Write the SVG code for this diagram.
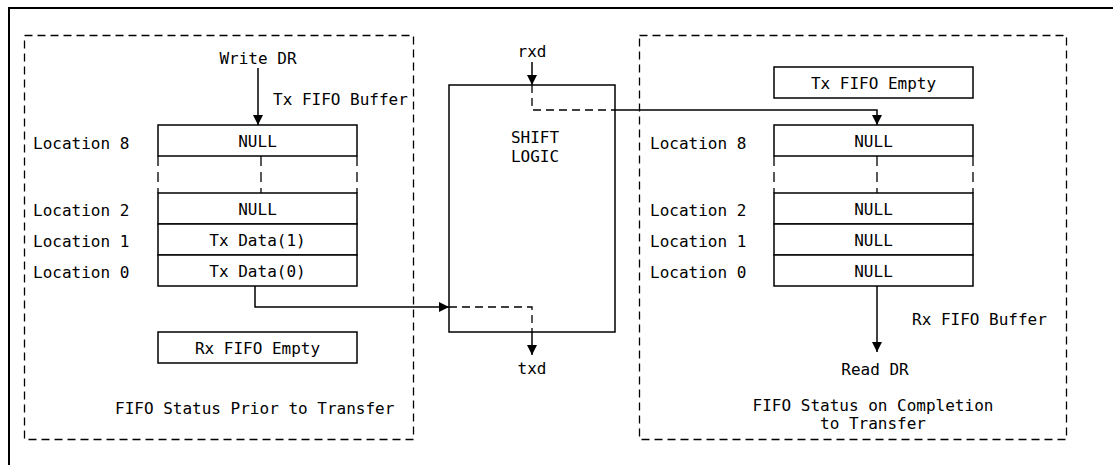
<svg xmlns="http://www.w3.org/2000/svg" width="1113" height="465" viewBox="0 0 1113 465">
<defs>
<style>
text{font-family:"DejaVu Sans Mono","Liberation Mono",monospace;font-size:16px;fill:#000}
.c{text-anchor:middle}
.box{fill:#fff;stroke:#000;stroke-width:1.5}
.dash{fill:none;stroke:#000;stroke-width:1.3;stroke-dasharray:8 5}
.ln{fill:none;stroke:#000;stroke-width:1.5}
</style>
<marker id="ah" viewBox="0 0 10 10" refX="10" refY="5" markerWidth="10" markerHeight="10" markerUnits="userSpaceOnUse" orient="auto">
<path d="M0,0 L10,5 L0,10 z" fill="#000"/>
</marker>
</defs>
<rect width="1113" height="465" fill="#fff"/>
<path d="M9,465 V8 H1113" fill="none" stroke="#000" stroke-width="2"/>

<g id="left-panel">
<rect class="dash" x="24.5" y="35.5" width="389" height="404"/>
<text class="c" x="258" y="64">Write DR</text>
<text x="273" y="105">Tx FIFO Buffer</text>
<text x="33" y="149">Location 8</text>
<text x="33" y="216">Location 2</text>
<text x="33" y="247">Location 1</text>
<text x="33" y="278">Location 0</text>
<rect class="box" x="158" y="125" width="199" height="31"/>
<text class="c" x="257.5" y="147">NULL</text>
<path class="dash" d="M158,156 V193 M261,156 V193 M357,156 V193" style="stroke-dasharray:10 6"/>
<rect class="box" x="158" y="193" width="199" height="31"/>
<text class="c" x="257.5" y="215">NULL</text>
<rect class="box" x="158" y="224" width="199" height="31"/>
<text class="c" x="257.5" y="246">Tx Data(1)</text>
<rect class="box" x="158" y="255" width="199" height="31"/>
<text class="c" x="257.5" y="277">Tx Data(0)</text>
<rect class="box" x="158" y="332" width="199" height="31"/>
<text class="c" x="257.5" y="354">Rx FIFO Empty</text>
<text x="115" y="414">FIFO Status Prior to Transfer</text>
</g>

<g id="shift-logic">
<rect class="box" x="449" y="85" width="166" height="247" style="fill:none"/>
<text class="c" x="532" y="57">rxd</text>
<text class="c" x="535" y="143">SHIFT</text>
<text class="c" x="535" y="162">LOGIC</text>
<text class="c" x="532" y="374">txd</text>
</g>

<g id="right-panel">
<rect class="dash" x="639.5" y="35.5" width="427" height="404"/>
<rect class="box" x="774" y="67" width="199" height="31"/>
<text class="c" x="873.5" y="89">Tx FIFO Empty</text>
<text x="650" y="149">Location 8</text>
<text x="650" y="216">Location 2</text>
<text x="650" y="247">Location 1</text>
<text x="650" y="278">Location 0</text>
<rect class="box" x="774" y="125" width="199" height="31"/>
<text class="c" x="873.5" y="147">NULL</text>
<path class="dash" d="M774,156 V193 M877,156 V193 M973,156 V193" style="stroke-dasharray:10 6"/>
<rect class="box" x="774" y="193" width="199" height="31"/>
<text class="c" x="873.5" y="215">NULL</text>
<rect class="box" x="774" y="224" width="199" height="31"/>
<text class="c" x="873.5" y="246">NULL</text>
<rect class="box" x="774" y="255" width="199" height="31"/>
<text class="c" x="873.5" y="277">NULL</text>
<text x="912" y="325">Rx FIFO Buffer</text>
<text class="c" x="875" y="375">Read DR</text>
<text class="c" x="873" y="411">FIFO Status on Completion</text>
<text class="c" x="873" y="429">to Transfer</text>
</g>

<g id="connectors">
<path class="ln" d="M258,68 V125" marker-end="url(#ah)"/>
<path class="ln" d="M532,62 V85" marker-end="url(#ah)"/>
<path class="dash" d="M532,85 V110 H615"/>
<path class="ln" d="M615,110 H877 V125" marker-end="url(#ah)"/>
<path class="ln" d="M255,286 V307 H449" marker-end="url(#ah)"/>
<path class="dash" d="M449,307 H532 V332"/>
<path class="ln" d="M532,332 V355" marker-end="url(#ah)"/>
<path class="ln" d="M877,286 V352" marker-end="url(#ah)"/>
</g>
</svg>
